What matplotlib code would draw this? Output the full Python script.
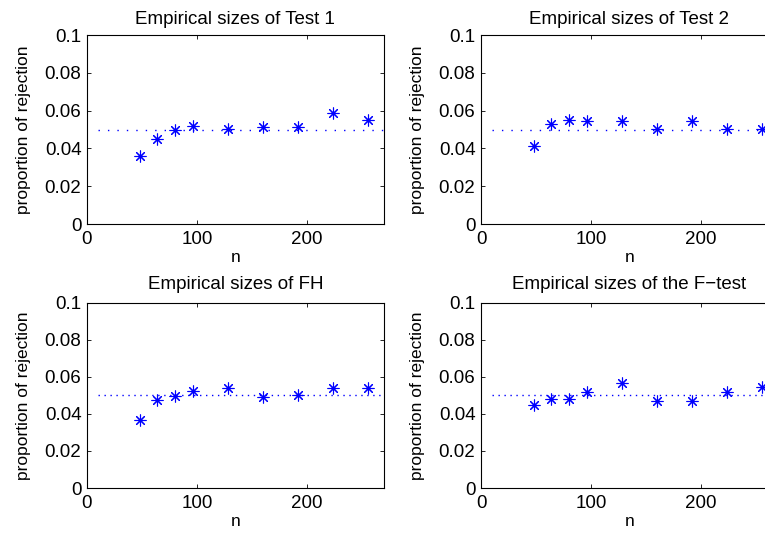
import matplotlib
matplotlib.use("Agg")
import matplotlib.pyplot as plt

plt.rcParams['font.family'] = ['Liberation Sans', 'DejaVu Sans']

n = [48, 64, 80, 96, 128, 160, 192, 224, 256]

test1 = [0.0360, 0.0450, 0.0496, 0.0517, 0.0504, 0.0511, 0.0511, 0.0589, 0.0549]
test2 = [0.0411, 0.0527, 0.0550, 0.0547, 0.0547, 0.0501, 0.0543, 0.0504, 0.0501]
fh = [0.0368, 0.0472, 0.0497, 0.0522, 0.0539, 0.0488, 0.0499, 0.0537, 0.0540]
ftest = [0.0447, 0.0478, 0.0478, 0.0519, 0.0566, 0.0469, 0.0471, 0.0517, 0.0542]

titles = ['Empirical sizes of Test 1', 'Empirical sizes of Test 2',
          'Empirical sizes of FH', 'Empirical sizes of the F\u2212test']
series = [test1, test2, fh, ftest]

nominal = 0.05
ref_x = [10, 270]

# axes boxes in figure fractions (MATLAB subplot layout, right column runs off the edge)
positions = [
    [0.1137, 0.5797, 0.388, 0.3546],
    [0.6288, 0.5797, 0.388, 0.3546],
    [0.1137, 0.0844, 0.388, 0.3480],
    [0.6288, 0.0844, 0.388, 0.3480],
]
dot_gaps = [5.8, 5.8, 3.3, 3.3]
title_pads = [8.0, 8.0, 9.5, 9.5]

fig = plt.figure(figsize=(7.65, 5.33), dpi=100)

for pos, title, vals, gap, tpad in zip(positions, titles, series, dot_gaps, title_pads):
    ax = fig.add_axes(pos)
    ax.plot(ref_x, [nominal, nominal], color='blue', linewidth=1.0,
            linestyle=(0, (1, gap)))
    ax.plot(n, vals, linestyle='none', marker=(8, 2, 0), markersize=8.5,
            markeredgewidth=0.8, color='blue')
    ax.set_xlim(0, 270)
    ax.set_ylim(0, 0.1)
    ax.set_xticks([0, 100, 200])
    ax.set_yticks([0, 0.02, 0.04, 0.06, 0.08, 0.1])
    ax.set_yticklabels(['0', '0.02', '0.04', '0.06', '0.08', '0.1'])
    ax.tick_params(direction='in', top=True, right=True, labelsize=13.5,
                   length=3, width=0.6)
    ax.tick_params(axis='x', pad=5)
    ax.tick_params(axis='y', pad=4)
    for sp in ax.spines.values():
        sp.set_linewidth(0.8)
    ax.set_title(title, fontsize=13.5, pad=tpad)
    ax.set_xlabel('n', fontsize=12.5, labelpad=1.5)
    ax.set_ylabel('proportion of rejection', fontsize=12.5, labelpad=10)

plt.savefig('out.png', dpi=100)
